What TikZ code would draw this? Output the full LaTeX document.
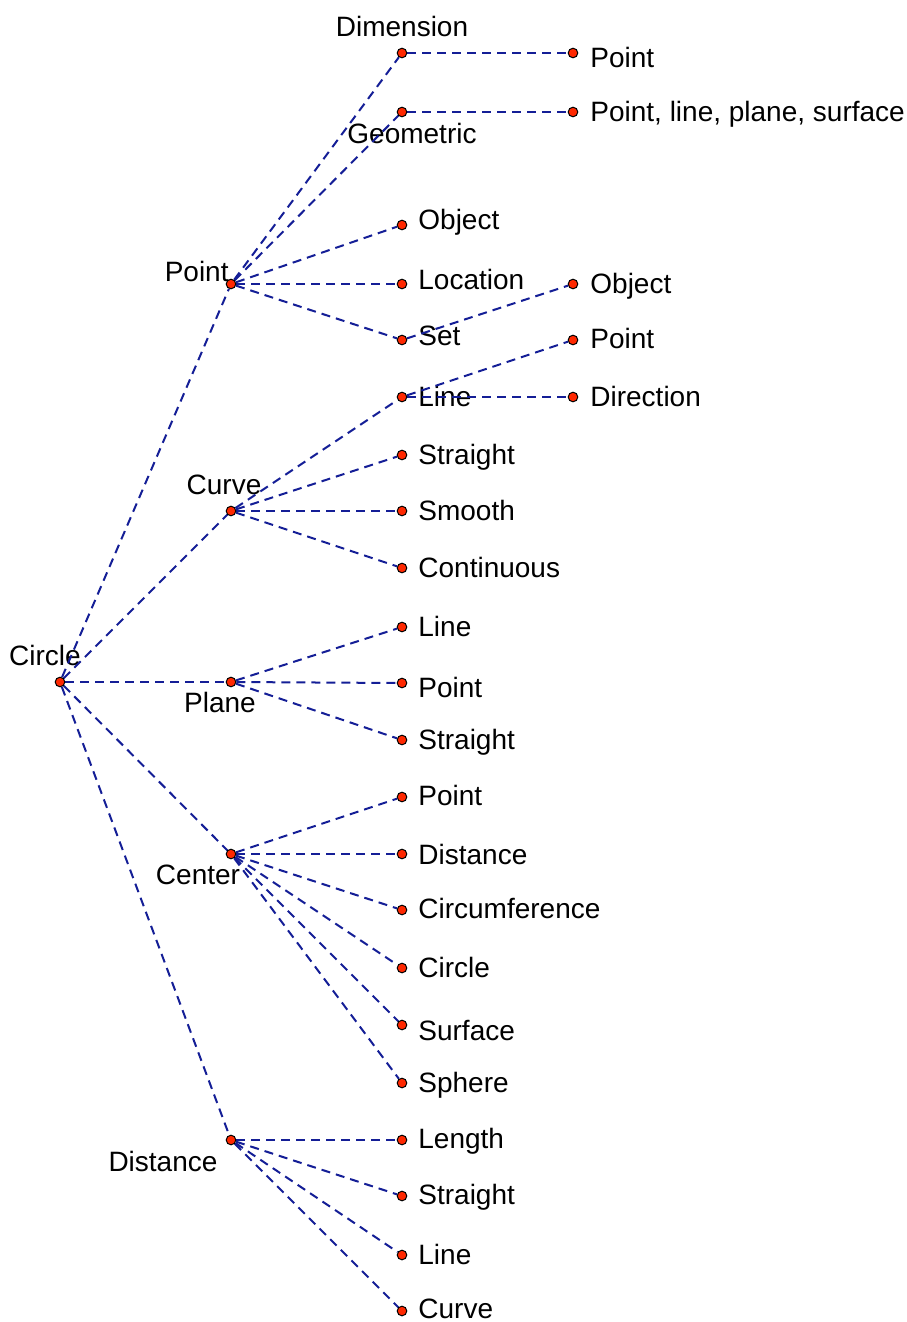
\documentclass[tikz,border=0pt]{standalone}
\usepackage{fontspec}
\setmainfont{Liberation Sans}
\definecolor{dotred}{RGB}{255,40,0}
\definecolor{edgeblue}{RGB}{20,30,150}
\pgfdeclarelayer{labels}
\pgfdeclarelayer{edges}
\pgfsetlayers{labels,edges,main}
\tikzset{
  dot/.style={circle,fill=dotred,draw=black,line width=0.5pt,minimum size=4.8pt,inner sep=0pt},
  edge/.style={draw=edgeblue,line width=1pt,dash pattern=on 4.5pt off 3pt},
  lbl/.style={inner sep=0pt,font=\fontsize{14}{16}\selectfont},
}
\begin{document}
\begin{tikzpicture}[x=0.5pt,y=-0.5pt]
\useasboundingbox (0,0) rectangle (906,1322);
% level 0
\node[dot] (c) at (60,682) {};
% level 1
\node[dot] (p) at (231,284) {};
\node[dot] (cu) at (231,511) {};
\node[dot] (pl) at (231,682) {};
\node[dot] (ce) at (231,854) {};
\node[dot] (d) at (231,1140) {};
% level 2
\node[dot] (dim) at (402,53) {};
\node[dot] (geo) at (402,112) {};
\node[dot] (obj) at (402,225) {};
\node[dot] (loc) at (402,284) {};
\node[dot] (set) at (402,340) {};
\node[dot] (cl) at (402,397) {};
\node[dot] (cs) at (402,455) {};
\node[dot] (csm) at (402,511) {};
\node[dot] (cc) at (402,568) {};
\node[dot] (pll) at (402,627) {};
\node[dot] (plp) at (402,683) {};
\node[dot] (pls) at (402,740) {};
\node[dot] (cep) at (402,797) {};
\node[dot] (ced) at (402,854) {};
\node[dot] (cecf) at (402,910) {};
\node[dot] (cec) at (402,968) {};
\node[dot] (cesu) at (402,1025) {};
\node[dot] (cesp) at (402,1083) {};
\node[dot] (dl) at (402,1140) {};
\node[dot] (ds) at (402,1196) {};
\node[dot] (dli) at (402,1255) {};
\node[dot] (dc) at (402,1311) {};
% level 3
\node[dot] (dimp) at (573,53) {};
\node[dot] (geop) at (573,112) {};
\node[dot] (seto) at (573,284) {};
\node[dot] (clp) at (573,340) {};
\node[dot] (cld) at (573,397) {};

\begin{pgfonlayer}{labels}
\node[lbl,anchor=base] at (45,665) {Circle};
\node[lbl,anchor=base east] at (229,281) {Point};
\node[lbl,anchor=base] at (224,494) {Curve};
\node[lbl,anchor=base] at (220,712) {Plane};
\node[lbl,anchor=base] at (198,884) {Center};
\node[lbl,anchor=base] at (163,1171) {Distance};
\node[lbl,anchor=base] at (402,37) {Dimension};
\node[lbl,anchor=base] at (412,143) {Geometric};
\foreach \y/\t in {229/Object,289/Location,345/Set,406/Line,464/Straight,520/Smooth,577/Continuous,636/Line,697/Point,749/Straight,805/Point,864/Distance,918/Circumference,977/Circle,1040/Surface,1092/Sphere,1148/Length,1204/Straight,1264/Line,1318/Curve}
  \node[lbl,anchor=base west] at (418,\y) {\t};
\node[lbl,anchor=base west] at (590,68) {Point};
\node[lbl,anchor=base west] at (590,121) {Point, line, plane, surface};
\node[lbl,anchor=base west] at (590,293) {Object};
\node[lbl,anchor=base west] at (590,348) {Point};
\node[lbl,anchor=base west] at (590,406) {Direction};
\end{pgfonlayer}

\begin{pgfonlayer}{edges}
\foreach \a/\b in {c/p,c/cu,c/pl,c/ce,c/d,
  p/dim,p/geo,p/obj,p/loc,p/set,
  dim/dimp,geo/geop,set/seto,
  cu/cl,cu/cs,cu/csm,cu/cc,
  cl/clp,cl/cld,
  pl/pll,pl/plp,pl/pls,
  ce/cep,ce/ced,ce/cecf,ce/cec,ce/cesu,ce/cesp,
  d/dl,d/ds,d/dli,d/dc}
  \draw[edge] (\a) -- (\b);
\end{pgfonlayer}
\end{tikzpicture}
\end{document}
